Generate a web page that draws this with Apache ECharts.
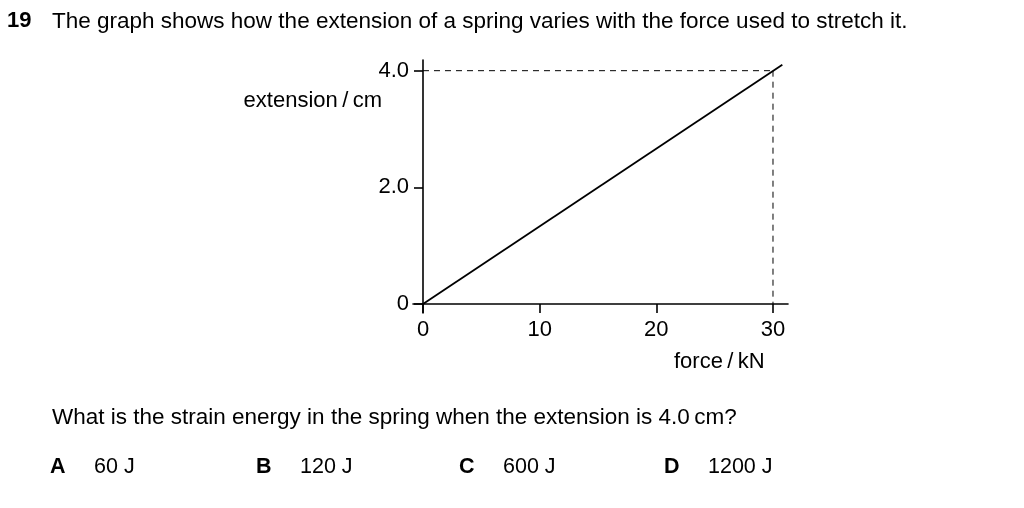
<!DOCTYPE html>
<html><head><meta charset="utf-8">
<script src="https://cdn.jsdelivr.net/npm/echarts@6/dist/echarts.min.js"></script>
<style>html,body{margin:0;padding:0;background:#fff}#c{width:1024px;height:508px}</style>
</head><body><div id="c"></div>
<script>
const forceKN = [0, 30.8];
const extensionCm = [0, 4.1];
const guideH = [[0, 4.0], [30, 4.0]];
const guideV = [[30, 4.0], [30, 0]];
const xTicks = [0, 10, 20, 30];
const yTicks = [0, 2, 4];
const yTickLabels = {0: '0', 2: '2.0', 4: '4.0'};
const options = [['A', '60 J'], ['B', '120 J'], ['C', '600 J'], ['D', '1200 J']];
const optX = [50, 256, 459, 664];

const F = 'Liberation Sans, Arial, sans-serif';
const chart = echarts.init(document.getElementById('c'));
const txt = (x, y, s, extra) => Object.assign({type: 'text', left: x, top: y, style: Object.assign({text: s, font: '22.5px ' + F, fill: '#000'}, extra || {})});
const graphics = [
  txt(7, 10, '19', {font: 'bold 22px ' + F}),
  txt(52, 10, 'The graph shows how the extension of a spring varies with the force used to stretch it.'),
  {type: 'text', right: 1024 - 382, top: 90, style: {text: 'extension\u2009/\u2009cm', font: '22px ' + F, fill: '#000', textAlign: 'right'}},
  txt(674, 351, 'force\u2009/\u2009kN', {font: '22px ' + F}),
  txt(52, 406, 'What is the strain energy in the spring when the extension is 4.0\u2009cm?')
];
options.forEach((o, i) => {
  graphics.push(txt(optX[i], 456, o[0], {font: 'bold 21.5px ' + F}));
  graphics.push(txt(optX[i] + 44, 456, o[1], {font: '21.5px ' + F}));
});

chart.setOption({
  animation: false,
  graphic: graphics,
  grid: {left: 413, right: 236, top: 60, bottom: 195},
  xAxis: {
    type: 'value', min: -0.857, max: 31.286,
    axisLine: {onZero: true, lineStyle: {color: '#000', width: 1.6}},
    axisTick: {show: true, length: 9, inside: false, customValues: xTicks, lineStyle: {color: '#000', width: 1.6}},
    axisLabel: {customValues: xTicks, color: '#000', fontSize: 22, fontFamily: F, margin: 6},
    splitLine: {show: false}
  },
  yAxis: {
    type: 'value', min: -0.154, max: 4.183,
    axisLine: {onZero: true, lineStyle: {color: '#000', width: 1.6}},
    axisTick: {show: true, length: 9, inside: false, customValues: yTicks, lineStyle: {color: '#000', width: 1.6}},
    axisLabel: {customValues: yTicks, color: '#000', fontSize: 22, fontFamily: F, margin: 4, formatter: v => yTickLabels[v]},
    splitLine: {show: false}
  },
  series: [
    {type: 'line', data: forceKN.map((f, i) => [f, extensionCm[i]]), showSymbol: false, lineStyle: {color: '#000', width: 1.8}, silent: true},
    {type: 'line', data: guideH, showSymbol: false, lineStyle: {color: '#000', width: 1, type: [6, 5]}, silent: true},
    {type: 'line', data: guideV, showSymbol: false, lineStyle: {color: '#000', width: 1, type: [6, 5]}, silent: true}
  ]
});
</script></body></html>
